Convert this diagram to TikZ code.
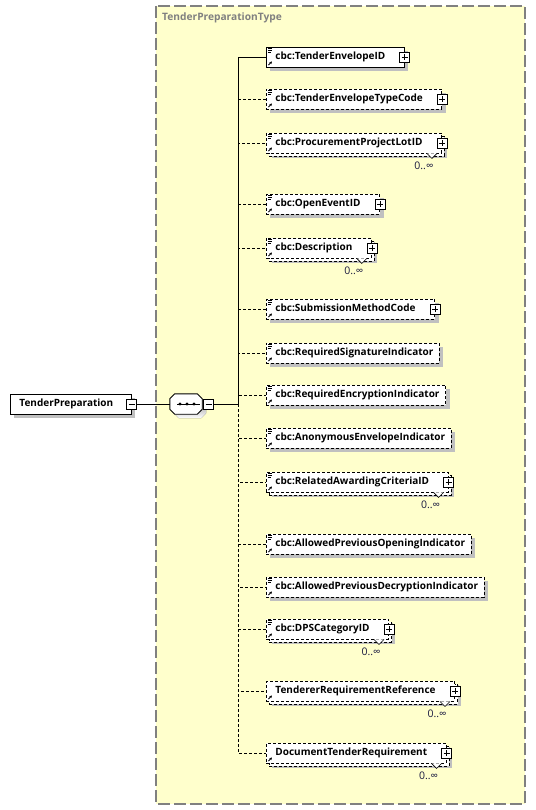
\documentclass[tikz,border=0pt]{standalone}
\usepackage{fontspec}
\setmainfont{Open Sans}
\usetikzlibrary{shapes.misc, shadows, positioning, arrows.meta}

\definecolor{typebg}{HTML}{FFFFCC}
\definecolor{typeframe}{HTML}{808080}
\definecolor{shade}{HTML}{C0C0C0}
\definecolor{occtext}{HTML}{1A1A40}

\tikzset{
  elem/.style={draw, fill=white, anchor=west, line width=0.9pt,
    minimum height=20pt, inner xsep=0pt, inner ysep=0pt,
    text height=7.5pt, text depth=2pt,
    font=\fontsize{10}{12}\selectfont\bfseries,
    execute at begin node={\hspace*{9pt}},
    execute at end node={\hspace*{6pt}},
    general shadow={fill=shade, shadow xshift=4pt, shadow yshift=-4pt}},
  icons/.style={path picture={
      \draw[solid, line width=0.7pt]
        ([shift={(1.5,-1.5)}]path picture bounding box.north west) -- ++(4.5,0)
        ([shift={(1.5,-3.5)}]path picture bounding box.north west) -- ++(4.5,0)
        ([shift={(1.5,-5.5)}]path picture bounding box.north west) -- ++(3.5,0);
      \draw[solid, line width=0.9pt, -{Stealth[length=2.6pt,width=2.8pt]}]
        ([shift={(2,2)}]path picture bounding box.south west) -- ++(3.5,3.5);}},
  refonly/.style={path picture={
      \draw[solid, line width=0.9pt, -{Stealth[length=2.6pt,width=2.8pt]}]
        ([shift={(2,2)}]path picture bounding box.south west) -- ++(3.5,3.5);}},
  opt/.style={dash pattern=on 3pt off 2pt},
  more/.style={execute at end node={\hspace*{13pt}}},
  multi/.style={
    general shadow={fill=shade, shadow xshift=6pt, shadow yshift=-5pt},
    general shadow={fill=white, draw=black, line width=0.9pt, dash pattern=on 3pt off 2pt,
      shadow xshift=3pt, shadow yshift=-3pt}},
  pbox/.style={draw, solid, fill=white, minimum size=10pt, inner sep=0pt, line width=0.7pt,
    path picture={\draw ([xshift=-3pt]path picture bounding box.center) -- ++(6,0)
      ([yshift=-3pt]path picture bounding box.center) -- ++(0,6);}},
  mbox/.style={draw, solid, fill=white, minimum size=10pt, inner sep=0pt, line width=0.7pt,
    path picture={\draw ([xshift=-3pt]path picture bounding box.center) -- ++(6,0);}},
  notch/.style={draw, solid, fill=white, line width=0.6pt},
  occ/.style={font=\fontsize{10.5}{12}\selectfont, text=occtext, inner sep=0pt},
  link/.style={line width=0.9pt},
}

\newcommand{\seqshape}{([xshift=5pt]seq.north west) -- ([xshift=-5pt]seq.north east)
  -- ([yshift=-5pt]seq.north east) -- ([yshift=5pt]seq.south east)
  -- ([xshift=-5pt]seq.south east) -- ([xshift=5pt]seq.south west)
  -- ([yshift=5pt]seq.south west) -- ([yshift=-5pt]seq.north west) -- cycle}

\begin{document}
\begin{tikzpicture}[x=1pt, y=1pt]
  \useasboundingbox (0,0) rectangle (535,-810);

  % the complex type
  \draw[typeframe, fill=typebg, line width=1.2pt, dash pattern=on 12pt off 4pt]
    (156,-6) rectangle (525,-804);
  \node[anchor=west, text=typeframe, inner sep=0pt,
    font=\fontsize{10.2}{12}\selectfont\bfseries] (typename) at (162,-18) {TenderPreparationType};

  % root element and sequence
  \node[elem, execute at end node={\hspace*{12pt}}] (top) at (10,-404) {TenderPreparation};
  \node[mbox] (topm) at (top.east) {};
  \node[minimum width=32pt, minimum height=20pt, inner sep=0pt] (seq) at (186,-404) {};
  \fill[shade, transform canvas={shift={(4pt,-4pt)}}] \seqshape;
  \draw[fill=white, line width=0.9pt] \seqshape;
  \draw[line width=0.9pt] ([xshift=-9pt]seq.center) -- ([xshift=14pt]seq.center);
  \foreach \dx in {-6,1,8}
    \fill ([xshift=\dx pt]seq.center) circle (1.6pt);
  \node[mbox, anchor=west] (seqm) at ([xshift=1pt]seq.east) {};
  \coordinate (bus) at (238,-404);

  % child elements
  \node[elem, icons, more] (e1) at (266,-57) {cbc:TenderEnvelopeID};
  \node[elem, icons, opt, more] (e2) at (266,-99) {cbc:TenderEnvelopeTypeCode};
  \node[elem, icons, opt, more, multi] (e3) at (266,-143) {cbc:ProcurementProjectLotID};
  \node[elem, icons, opt, more] (e4) at (266,-204) {cbc:OpenEventID};
  \node[elem, icons, opt, more, multi] (e5) at (266,-248) {cbc:Description};
  \node[elem, icons, opt, more] (e6) at (266,-309) {cbc:SubmissionMethodCode};
  \node[elem, icons, opt] (e7) at (266,-353) {cbc:RequiredSignatureIndicator};
  \node[elem, icons, opt] (e8) at (266,-395) {cbc:RequiredEncryptionIndicator};
  \node[elem, icons, opt] (e9) at (266,-438) {cbc:AnonymousEnvelopeIndicator};
  \node[elem, icons, opt, more, multi] (e10) at (266,-482) {cbc:RelatedAwardingCriteriaID};
  \node[elem, icons, opt] (e11) at (266,-544) {cbc:AllowedPreviousOpeningIndicator};
  \node[elem, icons, opt] (e12) at (266,-587) {cbc:AllowedPreviousDecryptionIndicator};
  \node[elem, icons, opt, more, multi] (e13) at (266,-629) {cbc:DPSCategoryID};
  \node[elem, refonly, opt, more, multi] (e14) at (266,-691) {TendererRequirementReference};
  \node[elem, refonly, opt, more, multi] (e15) at (266,-753) {DocumentTenderRequirement};

  \foreach \n in {e1,e2,e3,e4,e5,e6,e10,e13,e14,e15}
    \node[pbox] (\n-plus) at (\n.east) {};

  \foreach \n in {e3,e5,e10,e13,e14,e15}
  {
    \draw[notch] ([xshift=-15pt]\n.south east) -- ++(5,-5) -- ++(5,5);
    \node[occ, anchor=north] (\n-occ) at ([shift={(-18,-8)}]\n.south east) {0..∞};
  };

  % connectors
  \draw[link] (topm) -- (seq);
  \draw[link] (seqm) -- (bus);
  \draw[link] (bus) |- (e1.west);
  \foreach \n in {e2,e3,e4,e5,e6,e7,e8,e9,e10,e11,e12,e13,e14,e15}
    \draw[link, opt] (bus) |- (\n.west);
\end{tikzpicture}
\end{document}
